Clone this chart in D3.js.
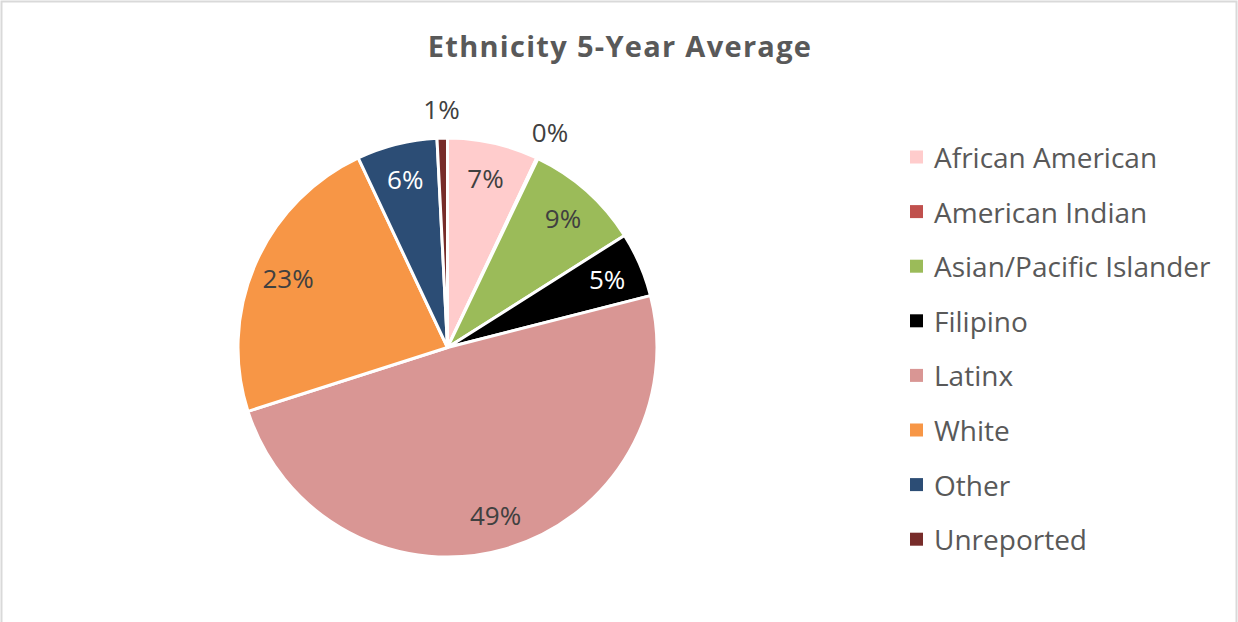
<!DOCTYPE html>
<html>
<head>
<meta charset="utf-8">
<script src="https://cdn.jsdelivr.net/npm/d3@7"></script>
<style>
  html, body { margin: 0; padding: 0; background: #fff; }
  svg { display: block; font-family: "Open Sans", "Noto Sans", sans-serif; }
</style>
</head>
<body>
<svg id="chart" width="1238" height="622"></svg>
<script>
// Ethnicity shares (percent), in legend order
const categories = ["African American", "American Indian", "Asian/Pacific Islander", "Filipino", "Latinx", "White", "Other", "Unreported"];
const shares = [7.0, 0.1, 8.9, 5.0, 49.0, 22.9, 6.2, 0.8];
const sliceColors = ["#FFCCCC", "#C0504D", "#9BBB59", "#000000", "#D99694", "#F79646", "#2C4D75", "#772C2A"];
const labelColors = ["#404040", "#404040", "#404040", "#ffffff", "#404040", "#404040", "#ffffff", "#404040"];
const title = "Ethnicity 5-Year Average";

const svg = d3.select("#chart");
const W = 1238, H = 622;

// chart frame
svg.append("rect")
  .attr("x", 1.5).attr("y", 1.5)
  .attr("width", W - 3).attr("height", H + 10)
  .attr("fill", "#fff").attr("stroke", "#d9d9d9").attr("stroke-width", 2);

svg.append("text")
  .attr("x", 620).attr("y", 57)
  .attr("text-anchor", "middle")
  .attr("font-size", 29).attr("font-weight", "bold")
  .attr("letter-spacing", 1.3)
  .attr("fill", "#595959")
  .text(title);

const cx = 447.5, cy = 347.5, r = 209.5;
const data = categories.map((c, i) => ({ name: c, value: shares[i], color: sliceColors[i], labelColor: labelColors[i] }));

const pie = d3.pie().sort(null).value(d => d.value);
const arcs = pie(data);
const arc = d3.arc().innerRadius(0).outerRadius(r);
const g = svg.append("g").attr("transform", `translate(${cx},${cy})`);

g.selectAll("path.slice").data(arcs).join("path")
  .attr("class", "slice")
  .attr("d", arc)
  .attr("fill", d => d.data.color)
  .attr("stroke", "#fff").attr("stroke-width", 3).attr("stroke-linejoin", "round");

// inside labels for wide slices, outside labels for thin ones
const inner = d3.arc().innerRadius(r * 0.83).outerRadius(r * 0.83);
const outer = d3.arc().innerRadius(r * 1.14).outerRadius(r * 1.14);
g.selectAll("text.lbl").data(arcs).join("text")
  .attr("class", "lbl")
  .attr("transform", d => {
    const p = (d.data.value < 2 ? outer : inner).centroid(d);
    return `translate(${p[0]},${p[1]})`;
  })
  .attr("text-anchor", "middle")
  .attr("dominant-baseline", "central")
  .attr("font-size", 26)
  .attr("fill", d => d.data.value < 2 ? "#404040" : d.data.labelColor)
  .text(d => Math.round(d.data.value) + "%");

// legend
const legend = svg.append("g").attr("transform", "translate(910,157)");
const step = 54.6;
const items = legend.selectAll("g").data(data).join("g")
  .attr("transform", (d, i) => `translate(0,${i * step})`);
items.append("rect")
  .attr("x", 0).attr("y", -6.5).attr("width", 13).attr("height", 13)
  .attr("fill", d => d.color);
items.append("text")
  .attr("x", 24).attr("y", 0)
  .attr("dominant-baseline", "central")
  .attr("font-size", 28)
  .attr("fill", "#595959")
  .text(d => d.name);
</script>
</body>
</html>
